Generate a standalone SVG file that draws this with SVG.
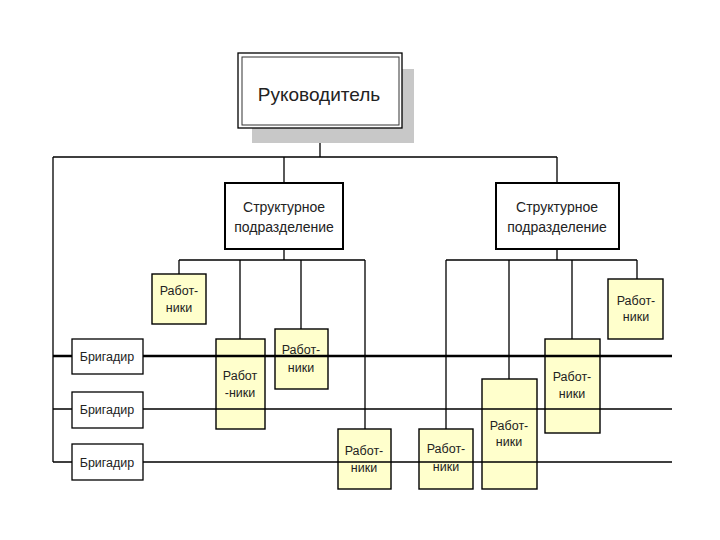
<svg xmlns="http://www.w3.org/2000/svg" width="720" height="540" viewBox="0 0 720 540">
<style>
text{font-family:"Liberation Sans",Arial,sans-serif;fill:#222;text-anchor:middle}
.ln{stroke:#000;stroke-width:1.3;fill:none}
.thick{stroke:#000;stroke-width:2.4;fill:none}
.wk rect{fill:#FFFFCC;stroke:#000;stroke-width:1.4}
.wk text{font-size:12.5px}
.br rect{fill:#fff;stroke:#000;stroke-width:1.3}
.br text{font-size:12.5px}
.st rect{fill:#fff;stroke:#000;stroke-width:2}
.st text{font-size:14px}
</style>
<rect width="720" height="540" fill="#fff"/>
<g id="connectors">
<path class="ln" d="M320,128V157M53,157H557M53,157V462M557,157V183M284,157V183"/>
<path class="ln" d="M284,249V260M179,260H365M179,260V274M240,260V339M301,260V329M365,260V429"/>
<path class="ln" d="M557,249V260M446,260H637M446,260V429M509,260V379M572,260V339M637,260V279"/>
</g>
<g id="rukovoditel">
<rect x="252" y="69" width="162" height="74" fill="#C8C8C8"/>
<rect x="238" y="53" width="164" height="75" fill="#fff" stroke="#000" stroke-width="1.3"/>
<rect x="242" y="57" width="157" height="68" fill="none" stroke="#333" stroke-width="1"/>
<text x="319" y="101" font-size="19">Руководитель</text>
</g>
<g id="struct1" class="st">
<rect x="225" y="183" width="118" height="66"/>
<text x="284" y="212">Структурное</text>
<text x="284" y="232">подразделение</text>
</g>
<g id="struct2" class="st">
<rect x="496" y="183" width="123" height="66"/>
<text x="557" y="212">Структурное</text>
<text x="557" y="232">подразделение</text>
</g>
<g id="w1" class="wk"><rect x="152" y="274" width="54" height="50"/><text x="179" y="295">Работ-</text><text x="179" y="312">ники</text></g>
<g id="w2" class="wk"><rect x="216" y="339" width="49" height="90"/><text x="240" y="380">Работ</text><text x="240" y="397">-ники</text></g>
<g id="w3" class="wk"><rect x="275" y="329" width="53" height="60"/><text x="301" y="354">Работ-</text><text x="301" y="372">ники</text></g>
<g id="w4" class="wk"><rect x="338" y="429" width="53" height="60"/><text x="364" y="455">Работ-</text><text x="364" y="472">ники</text></g>
<g id="w5" class="wk"><rect x="608" y="279" width="55" height="60"/><text x="636" y="305">Работ-</text><text x="636" y="321">ники</text></g>
<g id="w6" class="wk"><rect x="545" y="339" width="55" height="94"/><text x="572" y="381">Работ-</text><text x="572" y="398">ники</text></g>
<g id="w7" class="wk"><rect x="482" y="379" width="55" height="110"/><text x="509" y="430">Работ-</text><text x="509" y="446">ники</text></g>
<g id="w8" class="wk"><rect x="419" y="429" width="54" height="60"/><text x="446" y="453">Работ-</text><text x="446" y="471">ники</text></g>
<g id="brigade-lines">
<path class="thick" d="M53,356H672"/>
<path class="ln" d="M53,409H672M53,462H672"/>
</g>
<g id="b1" class="br"><rect x="72" y="339" width="71" height="35"/><text x="107" y="361">Бригадир</text></g>
<g id="b2" class="br"><rect x="72" y="392" width="71" height="36"/><text x="107" y="414">Бригадир</text></g>
<g id="b3" class="br"><rect x="72" y="444" width="71" height="36"/><text x="107" y="467">Бригадир</text></g>
</svg>
